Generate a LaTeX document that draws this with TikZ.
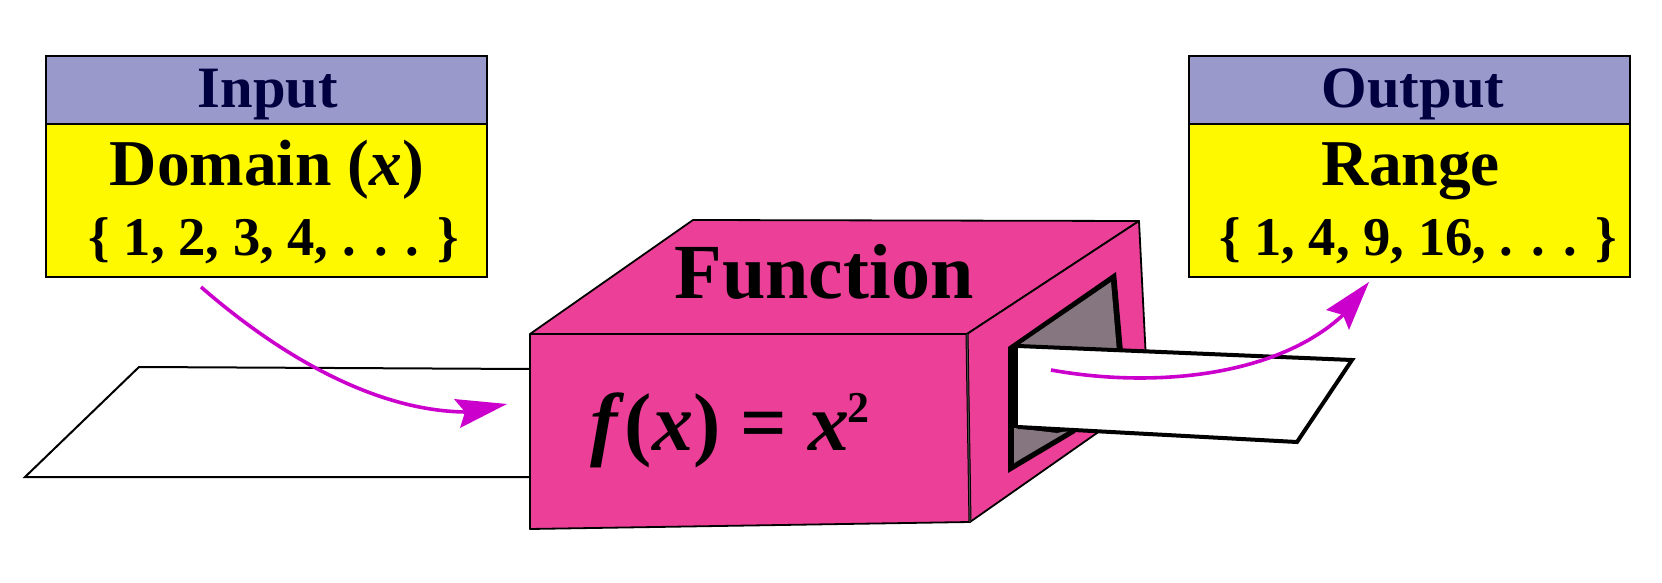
\documentclass[tikz,border=0pt]{standalone}
\usepackage{fontspec}
\setmainfont{Liberation Serif}
\definecolor{boxpink}{HTML}{EC4098}
\definecolor{head}{HTML}{9999CC}
\definecolor{headtxt}{HTML}{000040}
\definecolor{arrowc}{HTML}{CC00CC}
\definecolor{holegray}{HTML}{857680}
\definecolor{ybody}{HTML}{FFF900}
\tikzset{
  x=0.5pt,y=-0.5pt,
  panel/.style={draw=black,line width=1.2pt,minimum width=220.5pt,inner sep=0pt,anchor=north west},
  headbox/.style={panel,fill=head,minimum height=34pt},
  bodybox/.style={panel,fill=ybody,minimum height=76.5pt},
  headtext/.style={anchor=base,inner sep=0pt,text=headtxt,font=\bfseries\fontsize{29.3}{30}\selectfont},
  bigtxt/.style={anchor=base,font=\bfseries\fontsize{32.7}{33}\selectfont,inner sep=0pt},
  settxt/.style={anchor=base,font=\bfseries\fontsize{27.3}{28}\selectfont,inner sep=0pt},
  paper/.style={draw=black,fill=white,line width=1pt},
  face/.style={draw=black,fill=boxpink,line width=0.9pt,line join=round},
  curve/.style={draw=arrowc,line width=1.8pt},
  tip/.style={fill=arrowc,draw=none}
}
\begin{document}
\begin{tikzpicture}
\useasboundingbox (0,0) rectangle (1662,583);
% input box
\node[headbox] (inh) at (45,55) {};
\node[bodybox] (inb) at (45,123) {};
\node[headtext] (inl) at (268,108) {Input};
\node[bigtxt] (dom) at (267,185) {Domain (\textit{x})};
\node[settxt] (domset) at (274,256) {\{ 1, 2, 3, 4, . . . \}};
% output box
\node[headbox] (outh) at (1188,55) {};
\node[bodybox] (outb) at (1188,123) {};
\node[headtext] (outl) at (1413,108) {Output};
\node[bigtxt] (ran) at (1411,185) {Range};
\node[settxt] (ranset) at (1418,256) {\{ 1, 4, 9, 16, . . . \}};
% incoming paper
\draw[paper] (530,369) -- (139,367) -- (25,477) -- (530,477);
% function box
\draw[face] (530,334) -- (693,220) -- (1139,221) -- (967,334) -- cycle;
\draw[face] (967,334) -- (1139,221) -- (1146,360) -- (1097,433) -- (970,522) -- cycle;
\draw[face] (530,334) -- (967,334) -- (970,522) -- (530,529) -- cycle;
\draw[black,line width=1.5pt] (967,334) -- (970,522);
\draw[black!70,line width=0.5pt] (967,334) -- (970,522);
% window
\fill[black] (1008,347) -- (1116,272) -- (1123,352) -- (1075,433) -- (1008,473) -- cycle;
\fill[holegray] (1016,347) -- (1111,282) -- (1117,352) -- (1070,430) -- (1014,463) -- (1014,420) -- cycle;
\fill[black] (1014,345) rectangle (1018,430);
\fill[black] (1014,424) -- (1070,424) -- (1070,430) -- (1057,433) -- (1014,433) -- cycle;
\fill[holegray] (1014,428) -- (1057,433) -- (1014,463) -- cycle;
% outgoing paper
\draw[paper,line width=2pt,line join=miter] (1018,346) -- (1352,360) -- (1297,442) -- (1018,427);
% labels
\node[anchor=base,font=\bfseries\fontsize{39}{39}\selectfont,inner sep=0pt] (fun) at (824,299) {Function};
\node[anchor=base,font=\bfseries\fontsize{41}{41}\selectfont,inner sep=0pt] (eq) at (730,450) {\textit{f}(\textit{x}) = \textit{x}\kern-1pt\raisebox{13.5pt}{\fontsize{22}{22}\selectfont 2}};
% arrows
\coordinate (a1s) at (201,287);
\coordinate (a1e) at (468,412);
\coordinate (a2s) at (1051,370);
\coordinate (a2e) at (1343,315);
\draw[curve] (a1s) .. controls (285,360) and (380,412) .. (a1e);
\fill[tip] (507,404) -- (454,399) -- (465,412) -- (460,428) -- cycle;
\draw[curve] (a2s) .. controls (1150,388) and (1275,378) .. (a2e);
\fill[tip] (1369,282) -- (1326,310) -- (1343,315) -- (1349,330) -- cycle;
\end{tikzpicture}
\end{document}
